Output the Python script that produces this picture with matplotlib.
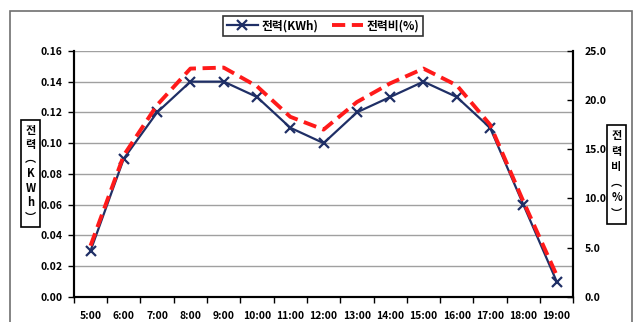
import matplotlib
matplotlib.use("Agg")
import matplotlib.pyplot as plt
from matplotlib.patches import Rectangle
from matplotlib.lines import Line2D

plt.rcParams['font.family'] = ['Noto Sans CJK KR', 'DejaVu Sans']
plt.rcParams['font.weight'] = 'bold'

hours = ["5:00", "6:00", "7:00", "8:00", "9:00", "10:00", "11:00", "12:00",
         "13:00", "14:00", "15:00", "16:00", "17:00", "18:00", "19:00"]
power_kwh = [0.03, 0.09, 0.12, 0.14, 0.14, 0.13, 0.11, 0.10,
             0.12, 0.13, 0.14, 0.13, 0.11, 0.06, 0.01]
power_ratio = [5.2, 14.4, 19.5, 23.2, 23.3, 21.4, 18.3, 17.0,
               19.8, 21.7, 23.2, 21.5, 17.5, 9.7, 2.2]

navy = "#1f2f66"
red = "#ff1a1a"

fig = plt.figure(figsize=(6.37, 3.22), dpi=100)
ax = fig.add_axes([0.116, 0.078, 0.784, 0.764])
ax2 = ax.twinx()

x = list(range(len(hours)))
ax.plot(x, power_kwh, color=navy, lw=1.6, marker="x", ms=7, mew=1.6, zorder=3)
ax2.plot(x, power_ratio, color=red, lw=2.8, ls=(0, (3.4, 1.7)), zorder=3)

ax.set_xlim(-0.5, len(hours) - 0.5)
ax.set_ylim(0, 0.16)
ax2.set_ylim(0, 25)
ax.set_yticks([i * 0.02 for i in range(9)])
ax.set_yticklabels([f"{i * 0.02:.2f}" for i in range(9)])
ax2.set_yticks([0, 5, 10, 15, 20, 25])
ax2.set_yticklabels([f"{v:.1f}" for v in [0, 5, 10, 15, 20, 25]])

ax.set_xticks(x)
ax.set_xticklabels(hours)
ax.set_xticks([i - 0.5 for i in range(len(hours) + 1)], minor=True)
ax.tick_params(axis="x", which="major", length=0, pad=10, labelsize=7.5)
ax.tick_params(axis="x", which="minor", length=4, width=1, direction="out", color="black")
ax.tick_params(axis="y", length=4, width=1, direction="out", labelsize=7.5, pad=4)
ax2.tick_params(axis="y", length=4, width=1, direction="in", labelsize=7.5, pad=8)

ax.grid(axis="y", color="#a0a0a0", lw=1)
ax.set_axisbelow(True)
for a in (ax, ax2):
    a.spines["top"].set_visible(False)
    a.spines["left"].set_linewidth(1.5)
    a.spines["bottom"].set_linewidth(1.5)
    a.spines["right"].set_linewidth(1.5)

# boxed stacked axis titles
box = dict(boxstyle="square,pad=0.35", fc="white", ec="black", lw=1.2)
fig.text(30.5 / 637, 1 - 173.5 / 322, "전\n력\n︵\nK\nW\nh\n︶", ha="center", va="center",
         fontsize=8, linespacing=1.15, bbox=box)
fig.text(616.5 / 637, 1 - 174.5 / 322, "전\n력\n비\n︵\n%\n︶", ha="center", va="center",
         fontsize=8, linespacing=1.25, bbox=box)

handles = [Line2D([], [], color=navy, lw=1.6, marker="x", ms=7, mew=1.6),
           Line2D([], [], color=red, lw=2.8, ls=(0, (3.4, 1.7)))]
leg = fig.legend(handles, ["전력(KWh)", "전력비(%)"], loc="center",
                 bbox_to_anchor=(323 / 637, 1 - 26 / 322), ncol=2, fontsize=8.5,
                 frameon=True, fancybox=False, handlelength=2.6, columnspacing=1.2,
                 handletextpad=0.3, borderpad=0.3)
leg.get_frame().set_edgecolor("black")
leg.get_frame().set_linewidth(1.2)

fig.patches.append(Rectangle((10 / 637, -0.01), 622 / 637, 1 - 11 / 322 + 0.01,
                             transform=fig.transFigure, fill=False, ec="#707070", lw=1.2))

fig.savefig("out.png", dpi=100)
